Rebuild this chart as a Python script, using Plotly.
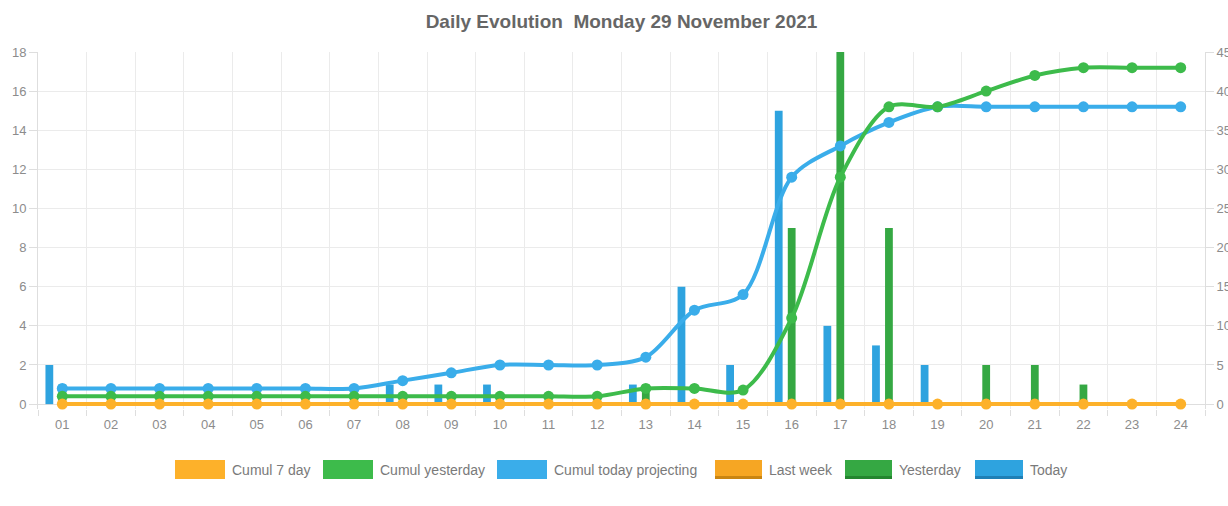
import plotly.graph_objects as go

# ---------------- data ----------------
hours = ["01", "02", "03", "04", "05", "06", "07", "08", "09", "10", "11", "12",
         "13", "14", "15", "16", "17", "18", "19", "20", "21", "22", "23", "24"]

today = [2, 0, 0, 0, 0, 0, 0, 1, 1, 1, 0, 0, 1, 6, 2, 15, 4, 3, 2, 0, 0, 0, 0, 0]
yesterday = [1, 0, 0, 0, 0, 0, 0, 0, 0, 0, 0, 0, 1, 0, 0, 9, 18, 9, 0, 2, 2, 1, 0, 0]
last_week = [0] * 24

cumul_today = [2, 2, 2, 2, 2, 2, 2, 3, 4, 5, 5, 5, 6, 12, 14, 29, 33, 36, 38, 38, 38, 38, 38, 38]
cumul_yesterday = [1, 1, 1, 1, 1, 1, 1, 1, 1, 1, 1, 1, 2, 2, 1.8, 11, 29, 38, 38, 40, 42, 43, 43, 43]
cumul_7day = [0] * 24

title_text = "Daily Evolution\u00a0\u00a0Monday 29 November 2021"

# ---------------- styles ----------------
ORANGE = "#FDB12A"
GREEN = "#3DBB4B"
BLUE = "#3AADEA"
BAR_BLUE = "#2EA3DF"
BAR_GREEN = "#35A843"
BAR_ORANGE = "#F6A623"
FONT = "Liberation Sans, Arial, sans-serif"
GRID = "#ebebeb"
AXLINE = "#dedede"
TICKTXT = "#8c8c8c"

W, H = 1228, 506
# plot area extends a few px below zero so the zero-level line is not cut in half
L, R, T, B = 38, 23, 52, 97
PW, PH = W - L - R, H - T - B
Y_PAD = 0.25  # left-axis units below zero (right axis scaled x2.5)


def px_x(x):
    return (x - L) / PW


def px_y(y):
    return (H - B - y) / PH


fig = go.Figure()

# bars (left axis) - order gives Today | Yesterday | Last week inside each group
fig.add_trace(go.Bar(x=hours, y=today, name="Today", marker_color=BAR_BLUE,
                     marker_line_width=0, yaxis="y", showlegend=False))
fig.add_trace(go.Bar(x=hours, y=yesterday, name="Yesterday", marker_color=BAR_GREEN,
                     marker_line_width=0, yaxis="y", showlegend=False))
fig.add_trace(go.Bar(x=hours, y=last_week, name="Last week", marker_color=BAR_ORANGE,
                     marker_line_width=0, yaxis="y", showlegend=False))

# cumulative lines (right axis)
for name, vals, col in [("Cumul today projecting", cumul_today, BLUE),
                        ("Cumul yesterday", cumul_yesterday, GREEN),
                        ("Cumul 7 day", cumul_7day, ORANGE)]:
    fig.add_trace(go.Scatter(x=hours, y=vals, name=name, yaxis="y2",
                             mode="lines+markers",
                             line=dict(color=col, width=4, shape="spline", smoothing=0.9),
                             marker=dict(color=col, size=11),
                             cliponaxis=False, showlegend=False))

# ---------------- manual legend (chart.js style boxes) ----------------
legend_items = [
    ("Cumul 7 day", ORANGE, None, 175, 50),
    ("Cumul yesterday", GREEN, None, 323, 50),
    ("Cumul today projecting", BLUE, None, 497, 50),
    ("Last week", BAR_ORANGE, "#c98512", 715, 47),
    ("Yesterday", BAR_GREEN, "#24862f", 845, 47),
    ("Today", BAR_BLUE, "#1f7fb5", 975, 48),
]
shapes = []
annotations = []
ly_top, ly_bot = 460, 479
for label, fill, edge, x0, w in legend_items:
    shapes.append(dict(type="rect", xref="paper", yref="paper",
                       x0=px_x(x0), x1=px_x(x0 + w), y0=px_y(ly_bot), y1=px_y(ly_top),
                       fillcolor=fill, line=dict(width=0), layer="above"))
    if edge:
        shapes.append(dict(type="rect", xref="paper", yref="paper",
                           x0=px_x(x0), x1=px_x(x0 + w), y0=px_y(ly_bot), y1=px_y(ly_bot - 3),
                           fillcolor=edge, line=dict(width=0), layer="above"))
    annotations.append(dict(text=label, xref="paper", yref="paper",
                            x=px_x(x0 + w + 5), y=px_y((ly_top + ly_bot) / 2),
                            xanchor="left", yanchor="middle", showarrow=False,
                            font=dict(family=FONT, size=14, color="#7a7a7a")))

fig.update_layout(
    width=W, height=H, autosize=False,
    margin=dict(l=L, r=R, t=T, b=B, autoexpand=False),
    paper_bgcolor="white", plot_bgcolor="white",
    title=dict(text="<b>" + title_text + "</b>", x=0.5, xref="paper", xanchor="center",
               y=1 - 21 / H, yref="container", yanchor="middle",
               font=dict(family=FONT, size=19, color="#666666")),
    barmode="group", bargap=0.2, bargroupgap=0.4,
    showlegend=False,
    shapes=shapes, annotations=annotations,
    xaxis=dict(type="category", categoryorder="array", categoryarray=hours,
               range=[-0.5, 23.5], tickson="boundaries", automargin=False,
               showgrid=True, gridcolor=GRID, gridwidth=1,
               showline=False,
               ticks="outside", ticklen=6, tickcolor=AXLINE,
               ticklabelstandoff=6,
               tickfont=dict(family=FONT, size=13, color=TICKTXT)),
    yaxis=dict(range=[-Y_PAD, 18], tickvals=list(range(0, 19, 2)), automargin=False,
               showgrid=True, gridcolor=GRID, gridwidth=1,
               zeroline=True, zerolinecolor=AXLINE, zerolinewidth=1,
               showline=True, linecolor=AXLINE, linewidth=1,
               ticks="outside", ticklen=8, tickcolor=AXLINE,
               tickfont=dict(family=FONT, size=13, color=TICKTXT)),
    yaxis2=dict(range=[-Y_PAD * 2.5, 45], tickvals=list(range(0, 46, 5)), overlaying="y",
                side="right", automargin=False,
                showgrid=False, zeroline=False,
                showline=True, linecolor=AXLINE, linewidth=1,
                ticks="outside", ticklen=8, tickcolor=AXLINE,
                tickfont=dict(family=FONT, size=13, color=TICKTXT)),
)

fig.write_html("out.html")
